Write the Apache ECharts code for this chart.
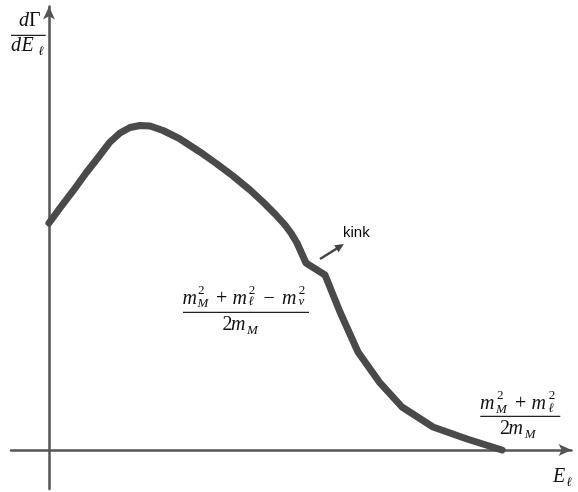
<!DOCTYPE html>
<html><head><meta charset="utf-8">
<script src="https://cdn.jsdelivr.net/npm/echarts@6/dist/echarts.min.js"></script>
<style>html,body{margin:0;padding:0;background:#fff}#c{width:578px;height:492px}</style>
</head><body><div id="c"></div>
<script>
// Lepton energy (arbitrary units, endpoint = 100) and differential rate (peak = 100)
const energy = [0, 2.43, 5.30, 8.17, 10.60, 13.47, 15.67, 17.88, 20.09, 22.30, 25.17, 28.92, 33.33, 37.09, 40.62, 44.37, 47.24, 49.89, 52.10, 53.42, 54.75, 56.73, 60.93, 64.24, 68.21, 73.07, 77.92, 84.77, 92.27, 100];
const rate   = [70.06, 74.69, 79.94, 85.49, 89.81, 95.06, 97.84, 99.54, 100.15, 100.0, 98.61, 95.99, 91.98, 88.27, 84.57, 80.25, 76.54, 72.84, 69.44, 66.98, 63.89, 57.72, 54.01, 42.59, 30.25, 20.68, 13.27, 7.10, 3.40, 0];
const kinkIndex = 21;
const xRange = [-8.39, 115.34];
const yRange = [-12.04, 136.88];
const kinkLabel = 'kink';

const SERIF = '"Liberation Serif", "DejaVu Serif", serif';
const INK = '#111';
const chart = echarts.init(document.getElementById('c'), null, {renderer: 'canvas'});

function axisCommon(r) {
  return {
    type: 'value', min: r[0], max: r[1],
    axisLine: {show: true, onZero: true, symbol: ['none', 'arrow'], symbolSize: [9, 13],
      lineStyle: {color: '#555', width: 2.5}},
    axisTick: {show: false}, axisLabel: {show: false}, splitLine: {show: false}
  };
}

chart.setOption({
  animation: false,
  backgroundColor: '#fff',
  grid: {left: 11, right: 6.5, top: 6.5, bottom: 3, containLabel: false},
  xAxis: axisCommon(xRange),
  yAxis: axisCommon(yRange),
  series: [{
    type: 'line', showSymbol: false, symbol: 'none', z: 5,
    data: energy.map((e, i) => [e, rate[i]]),
    lineStyle: {color: '#4a4a4a', width: 7, cap: 'round', join: 'round'}
  }]
});

// text helpers: x = left, bl = alphabetic baseline
function T(text, x, bl, size, italic) {
  return {type: 'text', x: x, y: bl - 0.3375 * size, z: 20,
    style: {text: text, fill: INK, fontFamily: SERIF, fontSize: size,
      fontStyle: italic ? 'italic' : 'normal', align: 'left', verticalAlign: 'middle'}};
}
function bar(x1, x2, y) {
  return {type: 'line', z: 20, shape: {x1: x1, y1: y, x2: x2, y2: y},
    style: {stroke: '#222', lineWidth: 1.3}};
}
const M = 20, S = 13;
const g = [];
// y-axis label dΓ/dE_ℓ
g.push(T('d', 19, 27.5, M, true), T('Γ', 29, 27.5, M, false), bar(11, 45.7, 35.3),
  T('d', 11, 52.5, M, true), T('E', 21.5, 52.5, M, true), T('ℓ', 38.5, 55.5, S, true));
// (m_M^2 + m_l^2 - m_nu^2)/(2 m_M)
g.push(T('m', 182.5, 305.8, M, true), T('2', 198, 295, S, false), T('M', 197.5, 308, S, true),
  T('+', 216, 305.5, M, false),
  T('m', 232.5, 305.8, M, true), T('2', 248.7, 295, S, false), T('ℓ', 248.5, 306, S, true),
  T('−', 263.5, 305.5, M, false),
  T('m', 282, 305.8, M, true), T('2', 298.7, 295, S, false), T('ν', 298.5, 306, S, true),
  bar(183, 309, 312.3),
  T('2', 222.5, 331, M, false), T('m', 231, 331, M, true), T('M', 247, 334.5, S, true));
// (m_M^2 + m_l^2)/(2 m_M)
g.push(T('m', 480, 410.8, M, true), T('2', 497, 400, S, false), T('M', 496, 413.5, S, true),
  T('+', 515, 410.8, M, false),
  T('m', 531.5, 410.8, M, true), T('2', 548.7, 400, S, false), T('ℓ', 548.5, 412.5, S, true),
  bar(480.3, 560.3, 416.3),
  T('2', 500, 435, M, false), T('m', 508.5, 435, M, true), T('M', 524.7, 438.5, S, true));
// x-axis label E_ℓ
g.push(T('E', 553, 483.5, M, true), T('ℓ', 566.5, 486.5, S, true));

// kink arrow + label anchored to the kink data point
const kp = chart.convertToPixel({seriesIndex: 0}, [energy[kinkIndex], rate[kinkIndex]]);
const sx = kp[0] + 14, sy = kp[1] - 4, ex = kp[0] + 38, ey = kp[1] - 19;
const dx = ex - sx, dy = ey - sy, len = Math.hypot(dx, dy), ux = dx / len, uy = dy / len;
const hl = 9, hw = 4;
const bx = ex - ux * hl, by = ey - uy * hl;
g.push({type: 'line', z: 20, shape: {x1: sx, y1: sy, x2: bx + ux * 1, y2: by + uy * 1},
  style: {stroke: '#444', lineWidth: 2.5}});
g.push({type: 'polygon', z: 20, shape: {points: [[ex, ey], [bx - uy * hw, by + ux * hw], [bx + uy * hw, by - ux * hw]]},
  style: {fill: '#444'}});
g.push({type: 'text', x: kp[0] + 37, y: kp[1] - 25 - 0.3465 * 15, z: 20,
  style: {text: kinkLabel, fill: '#000', fontFamily: '"Liberation Sans", Arial, sans-serif', fontSize: 15,
    align: 'left', verticalAlign: 'middle'}});

chart.setOption({graphic: g});
</script>
</body></html>
